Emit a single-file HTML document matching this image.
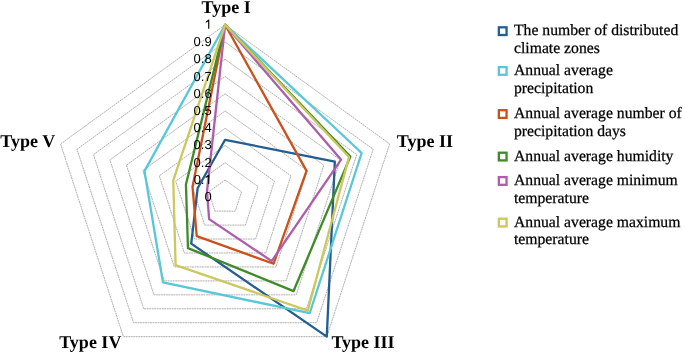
<!DOCTYPE html>
<html><head><meta charset="utf-8"><style>
html,body{margin:0;padding:0;background:#fff;}
body{width:685px;height:353px;overflow:hidden;}
svg{display:block;text-rendering:geometricPrecision;}
.tk,.ty,.lg{filter:grayscale(1);}
.tk{font-family:"Liberation Sans",sans-serif;font-size:13px;fill:#000;}
.ty{font-family:"Liberation Serif",serif;font-size:18px;font-weight:bold;fill:#000;}
.lg{font-family:"Liberation Serif",serif;font-size:15.7px;fill:#000;stroke:#000;stroke-width:0.25px;}
</style></head><body>
<svg width="685" height="353" viewBox="0 0 685 353">
<rect width="685" height="353" fill="#fff"/>
<g><polygon points="225.10,179.96 241.55,191.87 235.27,211.15 214.93,211.15 208.65,191.87" fill="none" stroke="#a6a6a6" stroke-width="0.9" stroke-dasharray="2 0.5 1.8 0.7"/>
<polygon points="225.10,162.72 258.01,186.55 245.44,225.09 204.76,225.09 192.19,186.55" fill="none" stroke="#a6a6a6" stroke-width="0.9" stroke-dasharray="2 0.5 1.8 0.7"/>
<polygon points="225.10,145.48 274.46,181.22 255.61,239.04 194.59,239.04 175.74,181.22" fill="none" stroke="#a6a6a6" stroke-width="0.9" stroke-dasharray="2 0.5 1.8 0.7"/>
<polygon points="225.10,128.24 290.91,175.89 265.77,252.99 184.43,252.99 159.29,175.89" fill="none" stroke="#a6a6a6" stroke-width="0.9" stroke-dasharray="2 0.5 1.8 0.7"/>
<polygon points="225.10,111.00 307.37,170.56 275.94,266.94 174.26,266.94 142.83,170.56" fill="none" stroke="#a6a6a6" stroke-width="0.9" stroke-dasharray="2 0.5 1.8 0.7"/>
<polygon points="225.10,93.76 323.82,165.24 286.11,280.88 164.09,280.88 126.38,165.24" fill="none" stroke="#a6a6a6" stroke-width="0.9" stroke-dasharray="2 0.5 1.8 0.7"/>
<polygon points="225.10,76.52 340.27,159.91 296.28,294.83 153.92,294.83 109.93,159.91" fill="none" stroke="#a6a6a6" stroke-width="0.9" stroke-dasharray="2 0.5 1.8 0.7"/>
<polygon points="225.10,59.28 356.73,154.58 306.45,308.78 143.75,308.78 93.47,154.58" fill="none" stroke="#a6a6a6" stroke-width="0.9" stroke-dasharray="2 0.5 1.8 0.7"/>
<polygon points="225.10,42.04 373.18,149.25 316.62,322.73 133.58,322.73 77.02,149.25" fill="none" stroke="#a6a6a6" stroke-width="0.9" stroke-dasharray="2 0.5 1.8 0.7"/>
<polygon points="225.10,24.80 389.63,143.93 326.79,336.67 123.41,336.67 60.57,143.93" fill="none" stroke="#a6a6a6" stroke-width="0.9" stroke-dasharray="2 0.5 1.8 0.7"/></g>
<g><polygon points="225.10,139.79 334.84,161.67 326.79,336.67 191.24,243.65 197.62,188.30" fill="none" stroke="#245D90" stroke-width="2.3" stroke-linejoin="round"/>
<polygon points="225.10,24.80 361.66,152.98 309.70,313.24 162.97,282.42 144.48,171.10" fill="none" stroke="#58C7D7" stroke-width="2.3" stroke-linejoin="round"/>
<polygon points="225.10,24.80 306.54,170.83 273.60,263.73 196.73,236.11 192.52,186.65" fill="none" stroke="#C9511C" stroke-width="2.3" stroke-linejoin="round"/>
<polygon points="225.10,24.80 350.31,156.66 293.54,291.07 187.98,248.11 185.94,184.52" fill="none" stroke="#3F8B27" stroke-width="2.3" stroke-linejoin="round"/>
<polygon points="225.10,24.80 341.10,159.64 271.67,261.08 209.14,219.10 207.00,191.34" fill="none" stroke="#AD5DAB" stroke-width="2.3" stroke-linejoin="round"/>
<polygon points="225.10,24.80 348.99,157.08 307.77,310.59 175.58,265.12 173.27,180.42" fill="none" stroke="#CCC75F" stroke-width="2.3" stroke-linejoin="round"/></g>
<g class="tk"><text x="211.7" y="196.70" text-anchor="end" dominant-baseline="central">0</text>
<path d="M209.31,183.96 L208.17,183.96 L208.17,176.68 L205.72,177.96 L205.72,176.86 L208.55,174.65 L209.31,174.65 Z" fill="#000"/>
<text x="204.47" y="179.46" text-anchor="end" dominant-baseline="central">0.</text>
<text x="211.7" y="162.22" text-anchor="end" dominant-baseline="central">0.2</text>
<text x="211.7" y="144.98" text-anchor="end" dominant-baseline="central">0.3</text>
<text x="211.7" y="127.74" text-anchor="end" dominant-baseline="central">0.4</text>
<text x="211.7" y="110.50" text-anchor="end" dominant-baseline="central">0.5</text>
<text x="211.7" y="93.26" text-anchor="end" dominant-baseline="central">0.6</text>
<text x="211.7" y="76.02" text-anchor="end" dominant-baseline="central">0.7</text>
<text x="211.7" y="58.78" text-anchor="end" dominant-baseline="central">0.8</text>
<text x="211.7" y="41.54" text-anchor="end" dominant-baseline="central">0.9</text>
<path d="M209.31,28.80 L208.17,28.80 L208.17,21.52 L205.72,22.80 L205.72,21.70 L208.55,19.49 L209.31,19.49 Z" fill="#000"/></g>
<g class="ty">
<text x="226.2" y="13.0" text-anchor="middle">Type I</text>
<text x="396.8" y="146.9">Type II</text>
<text x="331.4" y="347.8">Type III</text>
<text x="121.4" y="347.8" text-anchor="end">Type IV</text>
<text x="55.2" y="146.9" text-anchor="end">Type V</text>
</g>
<g><rect x="498.85" y="27.31" width="7.7" height="7.7" fill="none" stroke="#245D90" stroke-width="2.3"/>
<rect x="498.85" y="67.11" width="7.7" height="7.7" fill="none" stroke="#58C7D7" stroke-width="2.3"/>
<rect x="498.85" y="110.21" width="7.7" height="7.7" fill="none" stroke="#C9511C" stroke-width="2.3"/>
<rect x="498.85" y="152.71" width="7.7" height="7.7" fill="none" stroke="#3F8B27" stroke-width="2.3"/>
<rect x="498.85" y="177.11" width="7.7" height="7.7" fill="none" stroke="#AD5DAB" stroke-width="2.3"/>
<rect x="498.85" y="218.71" width="7.7" height="7.7" fill="none" stroke="#CCC75F" stroke-width="2.3"/></g>
<g class="lg"><text x="514" y="35.10">The number of distributed</text>
<text x="514" y="52.75">climate zones</text>
<text x="514" y="74.90">Annual average</text>
<text x="514" y="92.55">precipitation</text>
<text x="514" y="118.00">Annual average number of</text>
<text x="514" y="135.65">precipitation days</text>
<text x="514" y="160.50">Annual average humidity</text>
<text x="514" y="184.90">Annual average minimum</text>
<text x="514" y="202.55">temperature</text>
<text x="514" y="226.50">Annual average maximum</text>
<text x="514" y="244.15">temperature</text></g>
</svg>
</body></html>
